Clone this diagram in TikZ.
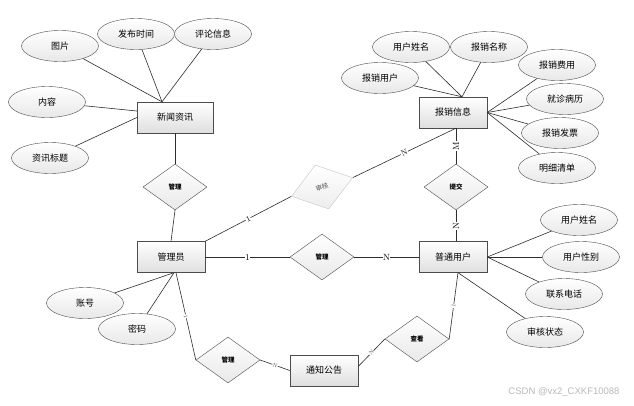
\documentclass[tikz,border=0pt]{standalone}
\usepackage{fontspec}
\newfontfamily\cjk{Noto Sans CJK SC}
\newfontfamily\wmfont{Liberation Sans}
\usetikzlibrary{shapes.geometric,calc}
\begin{document}
\begin{tikzpicture}[x=1pt,y=-1pt,
  ent/.style={rectangle,draw=gray!60!black,top color=white,bottom color=gray!25,minimum width=68pt,minimum height=31pt,inner sep=0pt,font=\cjk\fontsize{9}{10}\selectfont},
  attr/.style={ellipse,draw=gray!60!black,top color=white,bottom color=gray!18,minimum width=77pt,minimum height=31pt,inner sep=0pt,font=\cjk\fontsize{9}{10}\selectfont},
  rel/.style={diamond,draw=gray!60!black,top color=white,bottom color=gray!18,minimum width=64pt,minimum height=46pt,inner sep=0pt,font=\cjk\bfseries\fontsize{6.5}{7}\selectfont},
  link/.style={draw=gray!35!black,line width=0.6pt},
  card/.style={font=\fontsize{9}{9}\selectfont,fill=white,inner sep=0.5pt},
  tinycard/.style={font=\fontsize{5.5}{5.5}\selectfont,fill=white,inner sep=0.3pt,text=gray!60!black}
]
\useasboundingbox[fill=white] (0,0) rectangle (634,405);

% entities
\node[ent,minimum width=76pt] (xw) at (175,117.5) {新闻资讯};
\node[ent] (bx) at (453,112.5) {报销信息};
\node[ent] (ad) at (171,257) {管理员};
\node[ent] (pu) at (453,257) {普通用户};
\node[ent] (tz) at (324,370.5) {通知公告};

% attributes of 新闻资讯
\node[attr] (tp) at (60,46) {图片};
\node[attr] (fb) at (136,34) {发布时间};
\node[attr] (pl) at (213,34) {评论信息};
\node[attr] (nr) at (47,102) {内容};
\node[attr] (bt) at (50,158) {资讯标题};

% attributes of 报销信息
\node[attr] (yx1) at (411,47) {用户姓名};
\node[attr] (mc) at (489,47) {报销名称};
\node[attr] (yh) at (380,78) {报销用户};
\node[attr] (fy) at (557,65) {报销费用};
\node[attr] (bl) at (565,99) {就诊病历};
\node[attr] (fp) at (560,133) {报销发票};
\node[attr] (qd) at (557,168) {明细清单};

% attributes of 普通用户
\node[attr] (yx2) at (579,220) {用户姓名};
\node[attr] (xb) at (581,257) {用户性别};
\node[attr] (dh) at (564,294) {联系电话};
\node[attr] (zt) at (545,332) {审核状态};

% attributes of 管理员
\node[attr] (zh) at (85,303) {账号};
\node[attr] (mm) at (137,329) {密码};

% relationships
\node[rel] (gl1) at (175,187) {管理};
\node[rel,rotate=17,draw=gray!45,bottom color=gray!14,text=gray!65!black,font=\cjk\fontsize{6.5}{7}\selectfont] (sh) at (322,187) {审核};
\node[rel] (gl2) at (322,257) {管理};
\node[rel] (tj) at (456,187) {提交};
\node[rel] (gl3) at (228,360) {管理};
\node[rel] (ck) at (417,339) {查看};

% attribute links
\coordinate (xwt) at ($(xw.north)+(-13,0)$);
\draw[link] (xwt) -- (tp);
\draw[link] (xwt) -- (fb);
\draw[link] (xwt) -- (pl);
\draw[link] ($(xw.west)+(0,-6.5)$) -- (nr);
\draw[link] (xw.west) -- (bt);

\coordinate (bxt) at ($(bx.north)+(9,0)$);
\draw[link] (bxt) -- (yx1);
\draw[link] (bxt) -- (mc);
\draw[link] (bxt) -- (yh);
\draw[link] (bx.east) -- (fy);
\draw[link] (bx.east) -- (bl);
\draw[link] (bx.east) -- (fp);
\draw[link] (bx.east) -- (qd);

\draw[link] (pu.east) -- (yx2);
\draw[link] (pu.east) -- (xb);
\draw[link] (pu.east) -- (dh);
\coordinate (pub) at ($(pu.south)+(5,0)$);
\draw[link] (pub) -- (zt);

\coordinate (adb) at ($(ad.south)+(3,0)$);
\draw[link] (adb) -- (zh);
\draw[link] (adb) -- (mm);

% relationship links
\draw[link] (xw.south) -- (gl1.north);
\draw[link] (gl1.south) -- (ad.north);

\draw[link] (ad.north east) -- node[card,sloped,font=\fontsize{8}{8}\selectfont] {1} (sh.west);
\draw[link] (sh.east) -- node[card,sloped,font=\fontsize{8}{8}\selectfont] {N} ($(bx.south)+(3,0)$);

\draw[link] (ad.east) -- node[card] {1} (gl2.west);
\draw[link] (gl2.east) -- node[card] {N} (pu.west);

\draw[link] ($(bx.south)+(3,0)$) -- node[card,rotate=90] {M} (tj.north);
\draw[link] (tj.south) -- node[card,rotate=90] {N} ($(pu.north)+(3,0)$);

\draw[link] ($(adb)+(2,0)$) -- node[tinycard,sloped] {1} (gl3.west);
\draw[link] (gl3.east) -- node[tinycard,sloped] {N} (tz.west);
\draw[link] ($(tz.east)+(0,-4)$) -- node[tinycard,sloped] {N} (ck.west);
\draw[link] (ck.east) -- node[tinycard,sloped] {1} (pub);

% watermark
\node[font=\wmfont\fontsize{9.5}{10}\selectfont,text=gray!55] (wm) at (564,392) {CSDN @vx2\_CXKF10088};
\end{tikzpicture}
\end{document}
